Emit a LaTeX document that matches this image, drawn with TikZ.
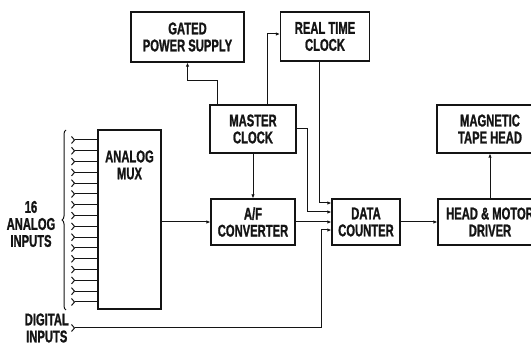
\documentclass[tikz,border=0pt]{standalone}
\usepackage{fontspec}
\newfontfamily\lettering[FakeStretch=0.66, BoldFeatures={FakeBold=1.2}]{Liberation Sans}
\definecolor{mInk}{HTML}{141414}
\usetikzlibrary{arrows.meta, decorations.pathreplacing}
\begin{document}
\begin{tikzpicture}[x=1pt, y=1pt,
    blk/.style={draw=mInk, line width=1.3pt, text=mInk, align=center, inner sep=0pt,
                font=\lettering\bfseries\fontsize{17}{17}\selectfont},
    lbl/.style={text=mInk, align=center, inner sep=0pt,
                font=\lettering\bfseries\fontsize{17}{17}\selectfont},
    wire/.style={mInk, line width=1pt},
    feed/.style={wire, -{Latex[length=4pt, width=3.5pt]}},
    tap/.style={wire, {Straight Barb[reversed, length=3pt, width=7pt]}-}]
  \useasboundingbox (0,0) rectangle (531,343);
  \clip (0,0) rectangle (531,343);
  % blocks
  \node[blk, minimum width=113, minimum height=50] (gps) at (187.5,306) {GATED\\POWER SUPPLY};
  \node[blk, minimum width=89, minimum height=49] (rtc) at (325,306.5) {REAL TIME\\CLOCK};
  \node[blk, minimum width=86, minimum height=48] (mc) at (253,214) {MASTER\\CLOCK};
  \node[blk, minimum width=84, minimum height=46] (af) at (253,121) {A/F\\CONVERTER};
  \node[blk, minimum width=68, minimum height=46] (dc) at (366,121) {DATA\\COUNTER};
  \node[blk, minimum width=104, minimum height=46] (hmd) at (490,121) {HEAD \& MOTOR\\DRIVER};
  \node[blk, minimum width=106, minimum height=48] (mth) at (490,214) {MAGNETIC\\TAPE HEAD};
  \node[blk, minimum width=63, minimum height=179] (mux) at (129.5,123.5) {};
  \node[lbl] (muxlabel) at (129.5,178) {ANALOG\\MUX};
  % analog inputs
  \foreach \i in {0,...,15} {
    \coordinate (ain\i) at (71, 203-10.8*\i);
    \draw[tap] (ain\i) -- (ain\i -| mux.west);
  }
  \draw[wire, decorate, decoration={brace, amplitude=4pt}] (66,33) -- (66,213);
  \node[lbl] (analog) at (31,119) {16\\ANALOG\\INPUTS};
  % digital inputs
  \coordinate (dig) at (71,15);
  \node[lbl, anchor=east] (diglabel) at (69,15) {DIGITAL\\INPUTS};
  % counter inputs
  \coordinate (dcin1) at ([yshift=19pt]dc.west);
  \coordinate (dcin2) at ([yshift=10pt]dc.west);
  \coordinate (dcin4) at ([yshift=-8pt]dc.west);
  % connectors
  \draw[feed] (mux.east |- af.west) -- (af.west);
  \draw[feed] (mc.south) -- (af.north);
  \draw[feed] ([xshift=-36pt]mc.north) -- ++(0,24) -| (gps.south);
  \draw[feed] ([xshift=14pt]mc.north) |- ([yshift=2.5pt]rtc.west);
  \draw[feed] ([xshift=-6pt]rtc.south) |- (dcin1);
  \draw[feed] (mc.east) -- ++(11,0) |- (dcin2);
  \draw[feed] (af.east) -- (dc.west);
  \draw[wire, {Straight Barb[reversed, length=3pt, width=7pt]}-{Latex[length=4pt, width=3.5pt]}]
    (dig) -- ++(250,0) |- (dcin4);
  \draw[feed] (dc.east) -- (hmd.west);
  \draw[feed] (hmd.north) -- (mth.south);
\end{tikzpicture}
\end{document}
